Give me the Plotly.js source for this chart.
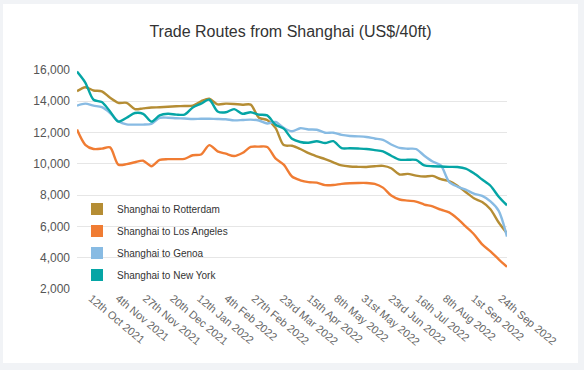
<!DOCTYPE html>
<html>
<head>
<meta charset="utf-8">
<script src="https://cdn.plot.ly/plotly-3.0.1.min.js"></script>
<style>
  html, body { margin: 0; padding: 0; background: #f1f3f6; width: 584px; height: 370px; overflow: hidden; }
  #chart { position: absolute; left: 3px; top: 4px; width: 575px; height: 359px; background: #ffffff; }
</style>
</head>
<body>
<div id="chart"></div>
<script>
// Weekly observations starting 30 Sep 2021
const startDate = "2021-09-30";
const rotterdam = [14640,14900,14690,14640,14220,13900,13900,13500,13550,13600,13620,13650,13680,13700,13720,14000,14170,13800,13850,13830,13780,13790,12950,12800,12300,11200,11160,10950,10680,10480,10300,10100,9900,9830,9810,9800,9850,9870,9720,9320,9360,9250,9190,9230,9020,8890,8600,8200,7800,7560,7100,6250,5560];
const losAngeles = [12190,11220,10950,10970,11050,9950,9980,10100,10200,9850,10260,10300,10300,10320,10550,10600,11200,10800,10650,10500,10690,11080,11100,11080,10350,9950,9190,8950,8830,8800,8640,8650,8720,8760,8780,8780,8720,8480,7970,7720,7650,7590,7400,7280,7070,6900,6500,6000,5500,4850,4400,3900,3420];
const genoa = [13720,13850,13720,13620,13250,12720,12520,12510,12510,12560,12940,12950,12920,12900,12870,12880,12880,12870,12850,12780,12800,12830,12770,12580,12680,12300,12080,12280,12200,12180,11990,11990,11850,11780,11760,11720,11620,11530,11240,11020,10970,10950,10520,10150,9900,8850,8550,8350,8100,7950,7600,7000,5350];
const newYork = [15900,15200,14100,13950,13350,12700,12950,13250,13200,12700,13100,13200,13150,13150,13600,13850,14100,13350,13300,13500,13200,13300,13150,13100,12500,12250,11600,11400,11350,11450,11330,11450,11000,11000,10980,10950,10880,10800,10520,10270,10260,10250,9900,9850,9830,9810,9800,9700,9400,9000,8600,7900,7350];

const seriesNames = ["Shanghai to Rotterdam","Shanghai to Los Angeles","Shanghai to Genoa","Shanghai to New York"];
const seriesColors = ["#b58d34","#f07c33","#88bbe3","#05a5a5"];

const tickDates = ["2021-10-12","2021-11-04","2021-11-27","2021-12-20","2022-01-12","2022-02-04","2022-02-27","2022-03-23","2022-04-15","2022-05-08","2022-05-31","2022-06-23","2022-07-16","2022-08-08","2022-09-01","2022-09-24"];
const tickLabels = ["12th Oct 2021","4th Nov 2021","27th Nov 2021","20th Dec 2021","12th Jan 2022","4th Feb 2022","27th Feb 2022","23rd Mar 2022","15th Apr 2022","8th May 2022","31st May 2022","23rd Jun 2022","16th Jul 2022","8th Aug 2022","1st Sep 2022","24th Sep 2022"];

function weeklyDates(start, n) {
  const out = [];
  const d0 = new Date(start + "T00:00:00Z");
  for (let i = 0; i < n; i++) {
    const d = new Date(d0.getTime() + i * 7 * 86400000);
    out.push(d.toISOString().slice(0, 10));
  }
  return out;
}
const dates = weeklyDates(startDate, rotterdam.length);
const allSeries = [rotterdam, losAngeles, genoa, newYork];

const traces = [];
allSeries.forEach((vals, k) => {
  traces.push({
    type: "scatter", mode: "lines", x: dates, y: vals,
    name: seriesNames[k], showlegend: false,
    line: { color: seriesColors[k], width: 2.4, shape: "spline", smoothing: 0.8 },
    hoverinfo: "x+y"
  });
});
// legend entries with square swatches
allSeries.forEach((vals, k) => {
  traces.push({
    type: "bar", x: [null], y: [null], name: seriesNames[k],
    marker: { color: seriesColors[k] }, legendgroup: "g" + k, showlegend: true
  });
});

const layout = {
  width: 575, height: 359,
  paper_bgcolor: "#ffffff", plot_bgcolor: "#ffffff",
  margin: { l: 74, r: 71, t: 66, b: 74 },
  font: { family: "Liberation Sans, Arial, sans-serif", color: "#555555", size: 12 },
  title: { text: "Trade Routes from Shanghai (US$/40ft)", x: 0.5, xanchor: "center", y: 0.925, yanchor: "middle",
           font: { size: 16, color: "#333333", family: "Liberation Sans, Arial, sans-serif" } },
  xaxis: {
    type: "date", range: [dates[0], dates[dates.length - 1]],
    tickmode: "array", tickvals: tickDates, ticktext: tickLabels, tickangle: 40,
    showgrid: false, zeroline: false, showline: false, ticks: "",
    tickfont: { size: 11, color: "#666666" }
  },
  yaxis: {
    range: [2000, 16000], tickvals: [2000,4000,6000,8000,10000,12000,14000,16000],
    tickformat: ",d", showgrid: true, gridcolor: "#e6e6e6", gridwidth: 1,
    zeroline: false, showline: false, ticks: "", ticklen: 0, ticklabelstandoff: 6,
    tickfont: { size: 12, color: "#555555" }
  },
  legend: {
    x: 0.0, y: 0.432, xanchor: "left", yanchor: "top",
    bgcolor: "rgba(0,0,0,0)", font: { size: 10, color: "#333333" },
    traceorder: "grouped", tracegroupgap: 3, itemwidth: 30
  },
  showlegend: true
};

Plotly.newPlot("chart", traces, layout, { displayModeBar: false, staticPlot: true });
</script>
</body>
</html>
